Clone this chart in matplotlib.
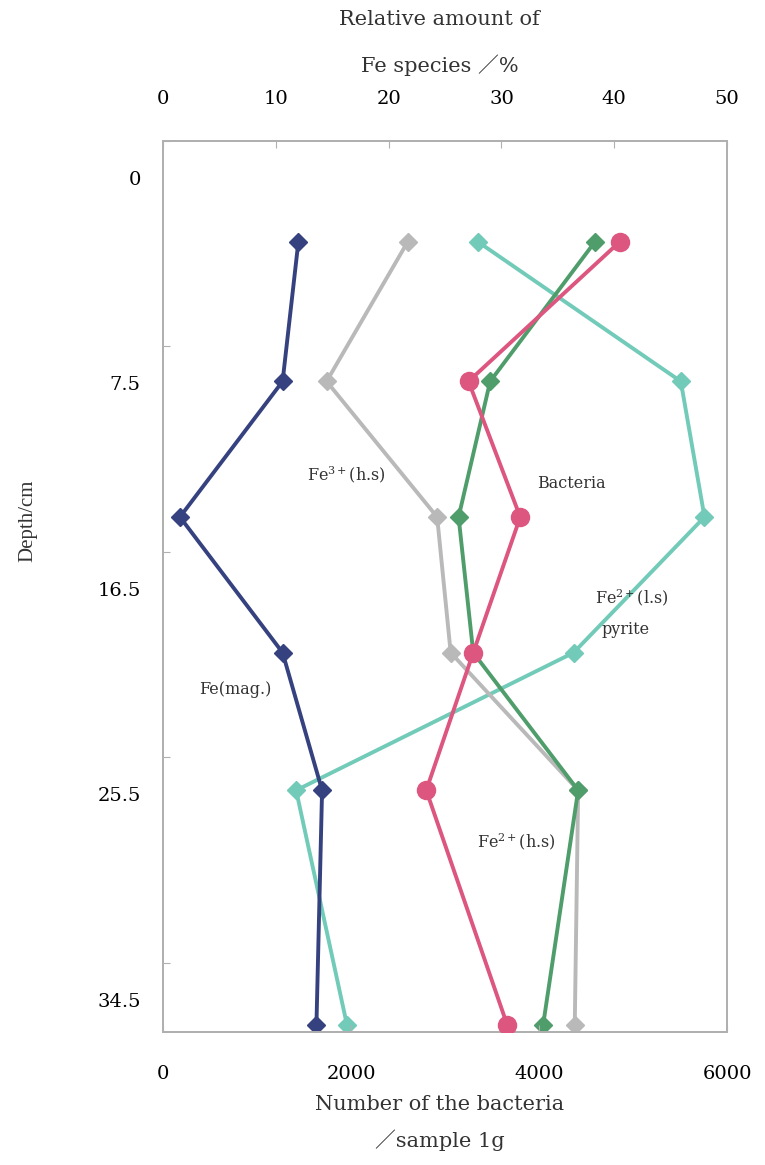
import matplotlib
matplotlib.use('Agg')
import matplotlib.pyplot as plt
import matplotlib.transforms as mtransforms

plt.rcParams['font.family'] = ['DejaVu Serif', 'Noto Sans CJK JP']
plt.rcParams['mathtext.fontset'] = 'dejavuserif'

# depth axis: evenly spaced tick marks with these labels
depth_labels = ['0', '7.5', '16.5', '25.5', '34.5']
# sample positions along the depth axis (in tick intervals)
sample_level = [0.49, 1.17, 1.83, 2.49, 3.16, 4.30]

# relative amount of Fe species / %  (top axis)
fe_mag = [12.0, 10.6, 1.5, 10.6, 14.1, 13.6]
fe3_hs = [21.7, 14.5, 24.3, 25.5, 36.8, 36.5]
fe2_hs = [38.3, 29.0, 26.2, 27.5, 36.8, 33.7]
fe2_ls = [27.9, 45.9, 48.0, 36.4, 11.8, 16.3]

# number of bacteria / sample 1g  (bottom axis)
bacteria = [4860, 3250, 3800, 3300, 2800, 3660]

c_navy = '#36427f'
c_gray = '#b9b9b9'
c_green = '#4f9d6b'
c_teal = '#72cbb8'
c_pink = '#dc5680'
spine_c = '#b0b0b0'

fig = plt.figure(figsize=(7.65, 11.65), dpi=100)
ax = fig.add_axes([0.2131, 0.1142, 0.7373, 0.7648])
ax2 = ax.twiny()

lw = 2.8
ax2.plot(fe2_ls, sample_level, '-D', color=c_teal, lw=lw, ms=9, zorder=2)
ax2.plot(fe3_hs, sample_level, '-D', color=c_gray, lw=lw, ms=9, zorder=3)
ax2.plot(fe2_hs, sample_level, '-D', color=c_green, lw=lw, ms=9, zorder=4)
ax2.plot(fe_mag, sample_level, '-D', color=c_navy, lw=lw, ms=9, zorder=5)
ax.plot(bacteria, sample_level, '-o', color=c_pink, lw=lw, ms=13, zorder=6)
ax.set_zorder(ax2.get_zorder() + 1)
ax.patch.set_visible(False)

ax.set_xlim(0, 6000)
ax2.set_xlim(0, 50)
ax.set_ylim(4.336, 0)

ax.set_xticks([0, 2000, 4000, 6000])
ax2.set_xticks([0, 10, 20, 30, 40, 50])
ax.set_yticks(range(len(depth_labels)))
ax.set_yticklabels(depth_labels)

ax.tick_params(axis='x', direction='in', length=5, color=spine_c, labelsize=14, pad=24)
ax2.tick_params(axis='x', direction='in', length=5, color=spine_c, labelsize=14, pad=24)
ax.tick_params(axis='y', direction='in', length=5, color=spine_c, labelsize=14, pad=16)
ax2.tick_params(axis='y', left=False, right=False)

# y labels sit a bit below their tick marks in the original
offset = mtransforms.ScaledTranslation(0, -0.37, fig.dpi_scale_trans)
for lab in ax.get_yticklabels():
    lab.set_transform(lab.get_transform() + offset)

for a in (ax, ax2):
    for sp in a.spines.values():
        sp.set_color(spine_c)
        sp.set_linewidth(1.4)

fig.text(0.575, 0.983, 'Relative amount of', ha='center', va='center', fontsize=15, color='#333333')
fig.text(0.575, 0.944, 'Fe species ／%', ha='center', va='center', fontsize=15, color='#333333')
fig.text(0.575, 0.052, 'Number of the bacteria', ha='center', va='center', fontsize=15, color='#333333')
fig.text(0.575, 0.021, '／sample 1g', ha='center', va='center', fontsize=15, color='#333333')
fig.text(0.036, 0.553, 'Depth/cm', ha='center', va='center', rotation=90, fontsize=15,
         family=['Liberation Serif'], color='#333333')

kw = dict(transform=fig.transFigure, fontsize=11.5, ha='center', va='center', color='#333333')
ax.text(346 / 765, 1 - 475 / 1165, r'Fe$^{3+}$(h.s)', **kw)
ax.text(571 / 765, 1 - 483 / 1165, 'Bacteria', **kw)
ax.text(632 / 765, 1 - 598 / 1165, r'Fe$^{2+}$(l.s)', **kw)
ax.text(626 / 765, 1 - 630 / 1165, 'pyrite', **kw)
ax.text(235 / 765, 1 - 690 / 1165, 'Fe(mag.)', **kw)
ax.text(516 / 765, 1 - 842 / 1165, r'Fe$^{2+}$(h.s)', **kw)

fig.savefig('out.png', dpi=100)
